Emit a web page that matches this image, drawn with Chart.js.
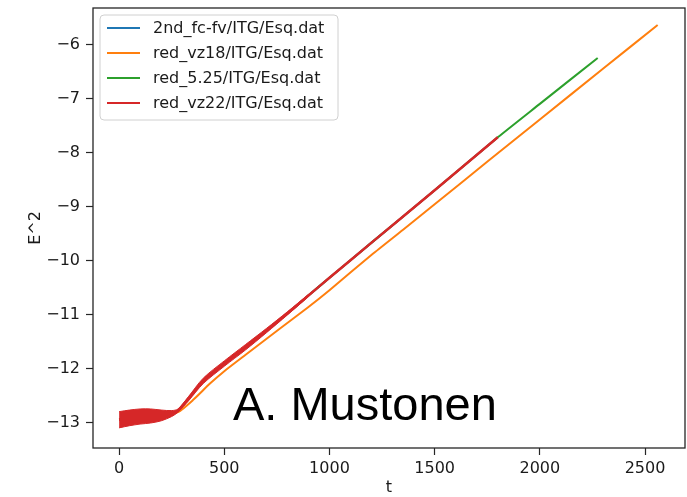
<!DOCTYPE html>
<html><head><meta charset="utf-8">
<script src="https://cdn.jsdelivr.net/npm/chart.js@4/dist/chart.umd.min.js"></script>
<style>html,body{margin:0;padding:0;background:#fff;}</style>
</head><body>
<canvas id="c" width="687" height="497"></canvas>
<script>
// ---- data ----
const seriesLabels = ['2nd_fc-fv/ITG/Esq.dat', 'red_vz18/ITG/Esq.dat', 'red_5.25/ITG/Esq.dat', 'red_vz22/ITG/Esq.dat'];
const seriesColors = ['#1f77b4', '#ff7f0e', '#2ca02c', '#d62728'];

const blueT = [0, 50, 100, 150, 200, 250, 280, 330, 400, 500, 600, 700, 800, 900, 1000, 1200, 1500, 1800];
const blueY = [-12.94, -12.90, -12.88, -12.87, -12.86, -12.83, -12.77, -12.55, -12.22, -11.90, -11.60, -11.29, -10.97, -10.64, -10.31, -9.66, -8.69, -7.71];

const orangeT = [0, 100, 200, 280, 350, 432, 500, 600, 765, 894, 1000, 1202, 1350, 1500, 1754, 2000, 2300, 2560];
const orangeY = [-12.93, -12.89, -12.87, -12.80, -12.58, -12.27, -12.04, -11.74, -11.25, -10.87, -10.54, -9.88, -9.42, -8.95, -8.15, -7.38, -6.44, -5.63];

const greenT = [0, 50, 100, 150, 200, 250, 280, 330, 400, 500, 600, 700, 800, 900, 1000, 1200, 1500, 1800, 2000, 2275];
const greenY = [-12.94, -12.90, -12.88, -12.87, -12.86, -12.83, -12.77, -12.55, -12.22, -11.90, -11.60, -11.29, -10.97, -10.64, -10.31, -9.66, -8.69, -7.71, -7.09, -6.24];

const redT = [0, 50, 100, 150, 200, 250, 280, 330, 400, 500, 600, 700, 800, 900, 1000, 1200, 1500, 1800];
const redY = [-12.94, -12.90, -12.88, -12.87, -12.86, -12.83, -12.77, -12.55, -12.22, -11.90, -11.60, -11.29, -10.97, -10.64, -10.31, -9.66, -8.69, -7.71];

// envelope of the rapidly oscillating red trace
const bandT = [0, 50, 100, 150, 200, 250, 280, 330, 400, 500, 600, 700, 800, 900];
const bandUpper = [-12.79, -12.76, -12.74, -12.74, -12.76, -12.77, -12.74, -12.51, -12.17, -11.85, -11.55, -11.25, -10.94, -10.62];
const bandLower = [-13.09, -13.05, -13.02, -13.00, -12.96, -12.88, -12.80, -12.59, -12.27, -11.95, -11.65, -11.33, -11.00, -10.66];

const xTicks = [0, 500, 1000, 1500, 2000, 2500];
const yTicks = [-13, -12, -11, -10, -9, -8, -7, -6];
const xTitle = 't';
const yTitle = 'E^2';
const annotationText = 'A. Mustonen';

// ---- build chart ----
const pts = (t, y) => t.map((v, i) => ({x: v, y: y[i]}));
const FONT = '"DejaVu Sans", sans-serif';

const lineDs = (label, t, y, color, order, w) => ({
  label, data: pts(t, y), borderColor: color, backgroundColor: color,
  borderWidth: w, pointRadius: 0, tension: 0.2, fill: false, order
});

const datasets = [
  lineDs(seriesLabels[0], blueT, blueY, seriesColors[0], 5, 2),
  lineDs(seriesLabels[1], orangeT, orangeY, seriesColors[1], 4, 2),
  lineDs(seriesLabels[2], greenT, greenY, seriesColors[2], 3, 2),
  lineDs(seriesLabels[3], redT, redY, seriesColors[3], 2, 2.5),
  { label: '_band_upper', data: pts(bandT, bandUpper), borderColor: seriesColors[3], backgroundColor: seriesColors[3],
    borderWidth: 1, pointRadius: 0, tension: 0.3, fill: '+1', order: 1 },
  { label: '_band_lower', data: pts(bandT, bandLower), borderColor: seriesColors[3], backgroundColor: seriesColors[3],
    borderWidth: 1, pointRadius: 0, tension: 0.3, fill: false, order: 1 }
];

const decor = {
  id: 'decor',
  afterDatasetsDraw(chart) {
    const {ctx, chartArea: a} = chart;
    ctx.save();
    // frame (spines)
    ctx.strokeStyle = '#262626';
    ctx.lineWidth = 1.3;
    ctx.strokeRect(a.left, a.top, a.right - a.left, a.bottom - a.top);

    // legend
    const bx = 100, by = 15, bw = 238, bh = 105, r = 4;
    ctx.beginPath();
    ctx.moveTo(bx + r, by);
    ctx.arcTo(bx + bw, by, bx + bw, by + bh, r);
    ctx.arcTo(bx + bw, by + bh, bx, by + bh, r);
    ctx.arcTo(bx, by + bh, bx, by, r);
    ctx.arcTo(bx, by, bx + bw, by, r);
    ctx.closePath();
    ctx.fillStyle = 'rgba(255,255,255,0.85)';
    ctx.fill();
    ctx.strokeStyle = '#d0d0d0';
    ctx.lineWidth = 1;
    ctx.stroke();
    ctx.font = '16px ' + FONT;
    ctx.textBaseline = 'middle';
    ctx.textAlign = 'left';
    seriesLabels.forEach((lab, i) => {
      const yy = 28 + i * 25;
      ctx.strokeStyle = seriesColors[i];
      ctx.lineWidth = 2;
      ctx.beginPath();
      ctx.moveTo(107, yy);
      ctx.lineTo(140, yy);
      ctx.stroke();
      ctx.fillStyle = '#1a1a1a';
      ctx.fillText(lab, 153, yy + 1);
    });

    // annotation
    ctx.fillStyle = '#000';
    ctx.font = '47px "Liberation Sans", Arial, sans-serif';
    ctx.textBaseline = 'alphabetic';
    ctx.fillText(annotationText, 233, 420);
    ctx.restore();
  }
};

new Chart(document.getElementById('c'), {
  type: 'line',
  data: { datasets },
  plugins: [decor],
  options: {
    responsive: false,
    animation: false,
    devicePixelRatio: 1,
    layout: { padding: { top: 8, right: 2, left: 0, bottom: 0 } },
    plugins: { legend: { display: false }, tooltip: { enabled: false } },
    scales: {
      x: {
        type: 'linear', min: -124, max: 2690,
        afterFit(s) { s.height = 49; s.paddingLeft = 0; s.paddingRight = 0; s.paddingTop = 0; s.paddingBottom = 0; },
        afterBuildTicks(s) { s.ticks = xTicks.map(v => ({value: v})); },
        grid: { drawOnChartArea: false, drawTicks: true, tickLength: 7, tickColor: '#262626', tickWidth: 1.2 },
        border: { display: false },
        ticks: { padding: 4, color: '#1a1a1a', font: { family: FONT, size: 16 }, maxRotation: 0,
          callback: v => String(v).replace('-', '\u2212') },
        title: { display: true, text: xTitle, color: '#1a1a1a', font: { family: FONT, size: 16 }, padding: { top: 0, bottom: 0 } }
      },
      y: {
        type: 'linear', min: -13.463, max: -5.315,
        afterFit(s) { s.width = 93; s.paddingLeft = 0; s.paddingRight = 0; s.paddingTop = 0; s.paddingBottom = 0; },
        afterBuildTicks(s) { s.ticks = yTicks.map(v => ({value: v})); },
        grid: { drawOnChartArea: false, drawTicks: true, tickLength: 7, tickColor: '#262626', tickWidth: 1.2 },
        border: { display: false },
        ticks: { padding: 6, color: '#1a1a1a', font: { family: FONT, size: 16 },
          callback: v => String(v).replace('-', '\u2212') },
        title: { display: true, text: yTitle, color: '#1a1a1a', font: { family: FONT, size: 16 }, padding: { top: 26, bottom: 0 } }
      }
    }
  }
});
</script>
</body></html>
